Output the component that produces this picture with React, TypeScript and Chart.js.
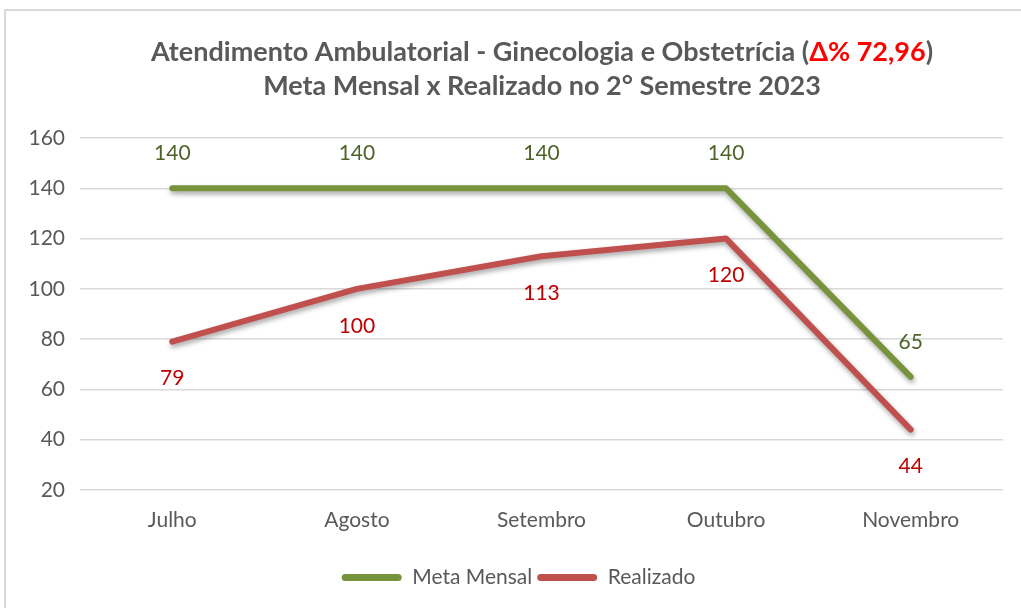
import React, { useEffect, useRef } from 'react';
import { Chart, registerables } from 'chart.js';

Chart.register(...registerables);

const categories = ['Julho', 'Agosto', 'Setembro', 'Outubro', 'Novembro'];
const metaMensal = [140, 140, 140, 140, 65];
const realizado = [79, 100, 113, 120, 44];
const yMin = 20;
const yMax = 160;
const yStep = 20;
const titleParts = [
  { text: 'Atendimento Ambulatorial - Ginecologia e Obstetrícia (', color: '#595959' },
  { text: 'Δ% 72,96', color: '#FF0000' },
  { text: ')', color: '#595959' },
];
const titleLine2 = 'Meta Mensal x Realizado no 2° Semestre 2023';

const FONT = 'Lato, "Open Sans", sans-serif';
const GREEN = '#77933C';
const RED = '#C0504D';
const GREEN_LABEL = '#4F6228';
const RED_LABEL = '#C00000';
const GRAY = '#595959';
const FS = 21;

const titlePlugin = {
  id: 'customTitle',
  afterDraw(chart: any) {
    const ctx = chart.ctx;
    ctx.save();
    ctx.font = `bold 27px ${FONT}`;
    ctx.textBaseline = 'middle';
    ctx.textAlign = 'left';
    const cx = 542;
    const widths = titleParts.map((p) => ctx.measureText(p.text).width);
    const total = widths.reduce((a, b) => a + b, 0);
    let x = cx - total / 2;
    titleParts.forEach((p, i) => {
      ctx.fillStyle = p.color;
      ctx.fillText(p.text, x, 52);
      x += widths[i];
    });
    ctx.textAlign = 'center';
    ctx.fillStyle = GRAY;
    ctx.fillText(titleLine2, cx, 86);
    ctx.restore();
  },
};

const legendShiftPlugin = {
  id: 'legendShift',
  afterLayout(chart: any) {
    if (chart.legend) {
      chart.legend.left = 34;
    }
  },
};

const shadowPlugin = {
  id: 'lineShadow',
  beforeDatasetsDraw(chart: any) {
    const ctx = chart.ctx;
    ctx.save();
    ctx.shadowColor = 'rgba(0,0,0,0.35)';
    ctx.shadowBlur = 5;
    ctx.shadowOffsetX = 1;
    ctx.shadowOffsetY = 3;
  },
  afterDatasetsDraw(chart: any) {
    chart.ctx.restore();
  },
};

const labelPlugin = {
  id: 'pointLabels',
  afterDatasetsDraw(chart: any) {
    const ctx = chart.ctx;
    ctx.save();
    ctx.font = `${FS}px ${FONT}`;
    ctx.textAlign = 'center';
    ctx.textBaseline = 'middle';
    chart.data.datasets.forEach((ds: any, di: number) => {
      const meta = chart.getDatasetMeta(di);
      meta.data.forEach((pt: any, i: number) => {
        const above = di === 0;
        ctx.fillStyle = above ? GREEN_LABEL : RED_LABEL;
        ctx.fillText(String(ds.data[i]), pt.x, pt.y + (above ? -35 : 37));
      });
    });
    ctx.restore();
  },
};

export default function App() {
  const canvasRef = useRef<HTMLCanvasElement>(null);

  useEffect(() => {
    document.body.style.margin = '0';
    const canvas = canvasRef.current!;
    const chart = new Chart(canvas, {
      type: 'line',
      data: {
        labels: categories,
        datasets: [
          {
            label: 'Meta Mensal',
            data: metaMensal,
            borderColor: GREEN,
            backgroundColor: GREEN,
            borderWidth: 6,
            pointRadius: 0,
            borderCapStyle: 'round',
            borderJoinStyle: 'round',
            tension: 0,
          },
          {
            label: 'Realizado',
            data: realizado,
            borderColor: RED,
            backgroundColor: RED,
            borderWidth: 6,
            pointRadius: 0,
            borderCapStyle: 'round',
            borderJoinStyle: 'round',
            tension: 0,
          },
        ],
      },
      options: {
        responsive: false,
        animation: false,
        layout: { padding: { left: 0, right: 18, top: 138, bottom: 10 } },
        plugins: {
          title: { display: false },
          tooltip: { enabled: false },
          legend: {
            display: true,
            position: 'bottom',
            labels: {
              boxWidth: 60,
              boxHeight: 7,
              padding: 5,
              useBorderRadius: true,
              borderRadius: 3.5,
              color: GRAY,
              font: { family: FONT, size: FS },
              generateLabels(ch: any) {
                return ch.data.datasets.map((ds: any, i: number) => ({
                  text: ds.label,
                  fillStyle: ds.borderColor,
                  strokeStyle: ds.borderColor,
                  lineWidth: 0,
                  fontColor: GRAY,
                  hidden: false,
                  datasetIndex: i,
                  borderRadius: 3.5,
                }));
              },
            },
          },
        },
        scales: {
          x: {
            offset: true,
            grid: { display: false },
            border: { display: false },
            ticks: { color: GRAY, font: { family: FONT, size: FS }, padding: 10 },
            afterFit(scale: any) {
              scale.height = 72;
            },
          },
          y: {
            min: yMin,
            max: yMax,
            grid: { color: '#D9D9D9', lineWidth: 1.5, drawTicks: false },
            border: { display: false },
            ticks: {
              stepSize: yStep,
              color: GRAY,
              font: { family: FONT, size: FS },
              padding: 15,
            },
            afterFit(scale: any) {
              scale.width = 80;
            },
          },
        },
      },
      plugins: [legendShiftPlugin, shadowPlugin, labelPlugin, titlePlugin],
    } as any);
    return () => chart.destroy();
  }, []);

  return (
    <div style={{ position: 'relative', width: 1021, height: 608, background: '#fff' }}>
      <div
        style={{
          position: 'absolute',
          left: 4,
          top: 9,
          right: -2,
          bottom: -2,
          borderTop: '2px solid #D9D9D9',
          borderLeft: '2px solid #D9D9D9',
        }}
      />
      <canvas ref={canvasRef} width={1021} height={608} style={{ position: 'absolute', left: 0, top: 0 }} />
    </div>
  );
}
